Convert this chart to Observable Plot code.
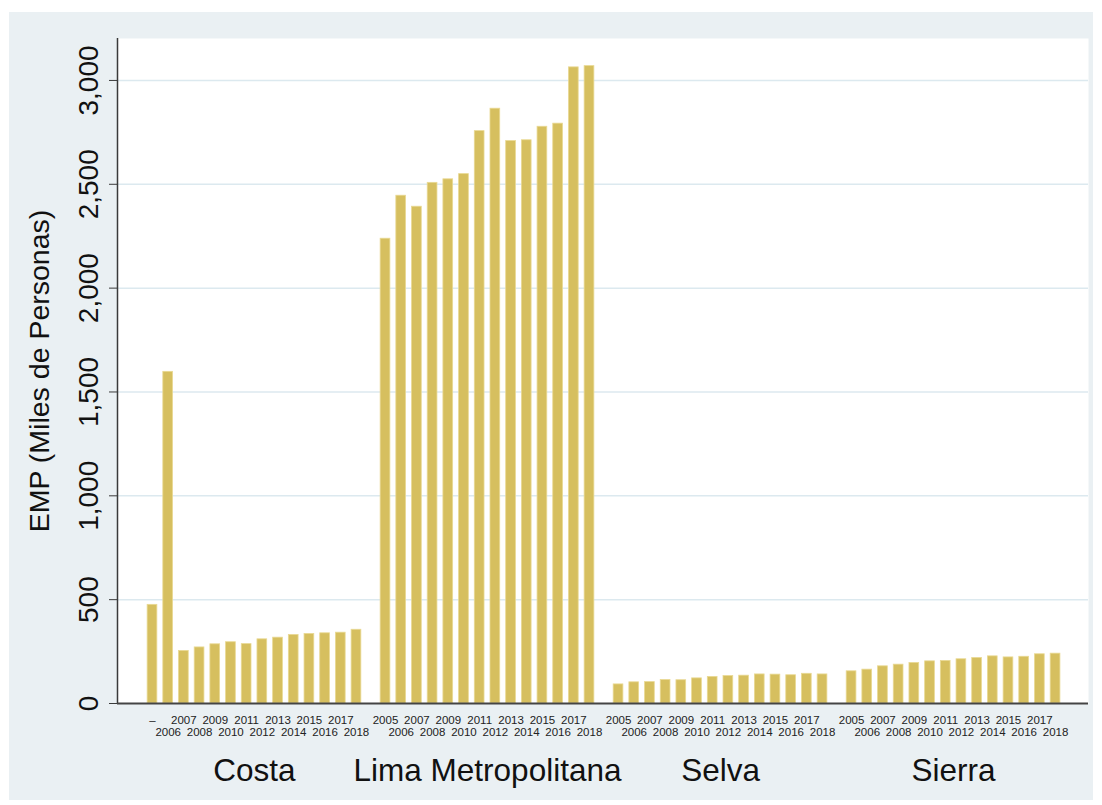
<!DOCTYPE html>
<html>
<head>
<meta charset="utf-8">
<script src="https://cdn.jsdelivr.net/npm/d3@7"></script>
<script src="https://cdn.jsdelivr.net/npm/@observablehq/plot@0.6"></script>
<style>
  html, body { margin: 0; padding: 0; background: #ffffff; }
  #wrap { position: relative; width: 1102px; height: 805px; overflow: hidden; }
  #bg { position: absolute; left: 9px; top: 12px; width: 1084px; height: 788px; background: #eaf0f3; }
  #chart { position: absolute; left: 0; top: 0; }
</style>
</head>
<body>
<div id="wrap"><div id="bg"></div><div id="chart"></div></div>
<script>
// ---- data ----
const regions = ["Costa", "Lima Metropolitana", "Selva", "Sierra"];
const years = [2005, 2006, 2007, 2008, 2009, 2010, 2011, 2012, 2013, 2014, 2015, 2016, 2017, 2018];
const costa  = [475, 1597, 253, 270, 285, 295, 286, 309, 317, 330, 335, 338, 341, 355];
const lima   = [2238, 2445, 2392, 2507, 2524, 2549, 2756, 2864, 2708, 2712, 2777, 2792, 3063, 3069];
const selva  = [92, 102, 103, 113, 112, 121, 128, 132, 134, 140, 139, 136, 143, 140];
const sierra = [155, 163, 179, 187, 195, 203, 205, 213, 219, 227, 222, 225, 237, 240];
const labelsCosta = ["–", "2006", "2007", "2008", "2009", "2010", "2011", "2012", "2013", "2014", "2015", "2016", "2017", "2018"];
const labelsOther = ["2005", "2006", "2007", "2008", "2009", "2010", "2011", "2012", "2013", "2014", "2015", "2016", "2017", "2018"];
const yTicks = [0, 500, 1000, 1500, 2000, 2500, 3000];

const seriesValues = [costa, lima, selva, sierra];
const seriesLabels = [labelsCosta, labelsOther, labelsOther, labelsOther];

// slot layout: 14 bars per region plus a gap between regions
const gapSlots = 0.85;
const perGroup = years.length + gapSlots;
const rows = [];
regions.forEach((r, g) => {
  seriesValues[g].forEach((v, i) => {
    rows.push({region: r, year: years[i], value: v, pos: g * perGroup + i, label: seriesLabels[g][i], row: i % 2});
  });
});
const groups = regions.map((r, g) => ({region: r, pos: g * perGroup + (years.length - 1) / 2}));
const xDomain = [-2.23, 3 * perGroup + years.length - 1 + 2.1];

const font = "'Liberation Sans', Arial, sans-serif";
const barColor = "#d6bf5f";

const chart = Plot.plot({
  width: 1102,
  height: 805,
  marginLeft: 117,
  marginTop: 38,
  marginRight: 14,
  marginBottom: 102,
  style: {background: "transparent", fontFamily: font, color: "#111"},
  x: {domain: xDomain, axis: null},
  y: {domain: [0, 3202], axis: null},
  marks: [
    Plot.frame({fill: "white", stroke: "none"}),
    Plot.gridY(yTicks.slice(1), {stroke: "#dce9ef", strokeOpacity: 1, strokeWidth: 1.5}),
    Plot.rectY(rows, {x1: d => d.pos - 0.31, x2: d => d.pos + 0.31, y: "value", fill: barColor, stroke: "#e9d993", strokeWidth: 0.8}),
    Plot.ruleX([xDomain[0]], {stroke: "#3a3a3a", strokeWidth: 1.5}),
    Plot.ruleY([0], {stroke: "#444", strokeWidth: 2.2}),
    Plot.axisY(yTicks, {
      anchor: "left",
      tickSize: 8,
      tickPadding: 12,
      tickRotate: -90,
      fontSize: 28,
      stroke: "#3a3a3a",
      fill: "#111",
      tickFormat: d3.format(","),
      label: null
    }),
    Plot.text(["EMP (Miles de Personas)"], {frameAnchor: "left", rotate: -90, dx: -78, lineAnchor: "middle", textAnchor: "middle", fontSize: 28.5, fill: "#111"}),
    Plot.text(rows, {filter: d => d.row === 0, x: "pos", text: "label", frameAnchor: "bottom", dy: 20, fontSize: 11.5, fill: "#222"}),
    Plot.text(rows, {filter: d => d.row === 1, x: "pos", text: "label", frameAnchor: "bottom", dy: 32, fontSize: 11.5, fill: "#222"}),
    Plot.text(groups, {x: "pos", text: "region", frameAnchor: "bottom", dy: 77, fontSize: 31.5, fill: "#111"})
  ]
});
document.getElementById("chart").appendChild(chart);
</script>
</body>
</html>
